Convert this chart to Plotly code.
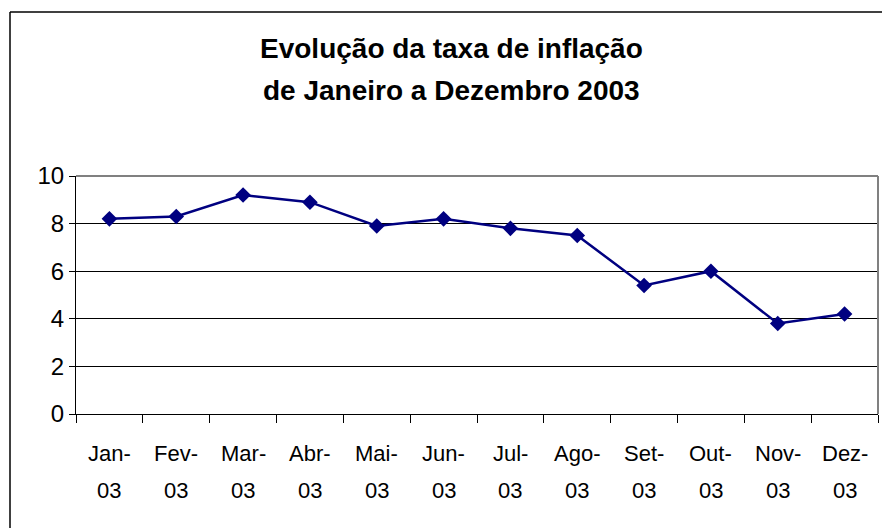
import plotly.graph_objects as go

months = ["Jan-", "Fev-", "Mar-", "Abr-", "Mai-", "Jun-", "Jul-", "Ago-", "Set-", "Out-", "Nov-", "Dez-"]
year_labels = ["03"] * 12
inflation = [8.2, 8.3, 9.2, 8.9, 7.9, 8.2, 7.8, 7.5, 5.4, 6.0, 3.8, 4.2]
y_ticks = [0, 2, 4, 6, 8, 10]
title_lines = ["Evolução da taxa de inflação", "de Janeiro a Dezembro 2003"]

FONT = "Liberation Sans, Arial, sans-serif"
categories = [m + y for m, y in zip(months, year_labels)]

fig = go.Figure()
fig.add_trace(go.Scatter(
    x=categories, y=inflation, mode="lines+markers",
    line=dict(color="#000080", width=2.5),
    marker=dict(symbol="diamond", size=12, color="#000080"),
    showlegend=False, cliponaxis=False,
))

OFF = 8  # default page body margin
W, H = 890 - OFF, 528 - OFF
L, T = 76 - OFF, 176 - OFF
pw, ph = 802, 238
R, B = W - L - pw, H - T - ph

def px_x(p):
    return (p - OFF - L) / pw

def px_y(p):
    return (T + ph - (p - OFF)) / ph

annotations = []
for i, (m, yl) in enumerate(zip(months, year_labels)):
    annotations.append(dict(x=categories[i], y=px_y(453.5), xref="x", yref="paper",
                            text=m, showarrow=False, xanchor="center", yanchor="middle",
                            font=dict(family=FONT, size=22, color="black")))
    annotations.append(dict(x=categories[i], y=px_y(490), xref="x", yref="paper",
                            text=yl, showarrow=False, xanchor="center", yanchor="middle",
                            font=dict(family=FONT, size=22, color="black")))
for line, py in zip(title_lines, [49, 91]):
    annotations.append(dict(x=px_x(451), y=px_y(py), xref="paper", yref="paper",
                            text="<b>" + line + "</b>", showarrow=False,
                            xanchor="center", yanchor="middle",
                            font=dict(family=FONT, size=28, color="black")))

shapes = [
    # plot area gray border (top and right)
    dict(type="line", xref="paper", yref="paper", x0=0, x1=1, y0=1, y1=1,
         line=dict(color="#808080", width=2)),
    dict(type="line", xref="paper", yref="paper", x0=1, x1=1, y0=0, y1=1,
         line=dict(color="#808080", width=2)),
    # outer chart frame (top and left visible)
    dict(type="line", xref="paper", yref="paper", x0=px_x(10), x1=px_x(900),
         y0=px_y(12), y1=px_y(12), line=dict(color="black", width=1.5)),
    dict(type="line", xref="paper", yref="paper", x0=px_x(10), x1=px_x(10),
         y0=px_y(12), y1=px_y(540), line=dict(color="black", width=1.5)),
]

fig.update_layout(
    width=W, height=H,
    margin=dict(l=L, r=R, t=T, b=B, pad=0),
    paper_bgcolor="white", plot_bgcolor="white",
    font=dict(family=FONT, color="black"),
    annotations=annotations, shapes=shapes,
    xaxis=dict(
        type="category", range=[-0.5, 11.5], showticklabels=False,
        ticks="outside", tickson="boundaries", ticklen=8, tickcolor="black", tickwidth=1,
        showline=True, linecolor="black", linewidth=1, showgrid=False, zeroline=False,
        fixedrange=True,
    ),
    yaxis=dict(
        range=[0, 10], tickvals=y_ticks, ticks="outside", ticklen=6,
        tickcolor="black", tickwidth=1, showline=True, linecolor="black", linewidth=1,
        showgrid=True, gridcolor="black", gridwidth=1, zeroline=False,
        tickfont=dict(family=FONT, size=24, color="black"), fixedrange=True,
    ),
)

fig.write_html("out.html")
